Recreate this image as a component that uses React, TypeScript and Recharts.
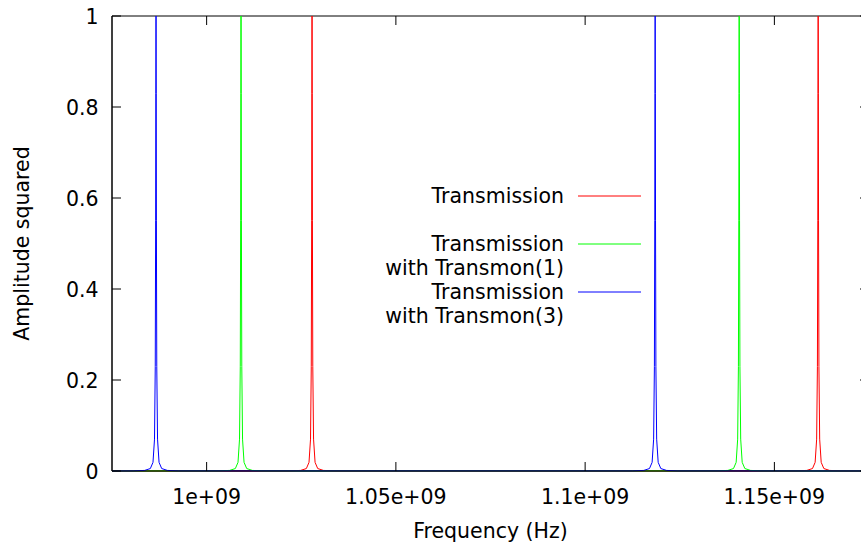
import { LineChart, Line, XAxis, YAxis, ReferenceArea } from 'recharts'

const freqMin = 0.975e9
const freqMax = 1.175e9

const xTicks = [1.0e9, 1.05e9, 1.1e9, 1.15e9]
const xTickLabels = ['1e+09', '1.05e+09', '1.1e+09', '1.15e+09']
const yTicks = [0, 0.2, 0.4, 0.6, 0.8, 1]
const yTickLabels = ['0', '0.2', '0.4', '0.6', '0.8', '1']

// resonance centres (Hz)
const redPeaks = [1.02785e9, 1.16157e9]
const greenPeaks = [1.00909e9, 1.1407e9]
const bluePeaks = [0.98663e9, 1.1185e9]

// one resonance as it looks on the plot: offset from centre (MHz) -> amplitude squared
const peakOffsets = [-6, -3, -1.5, -0.8, -0.4, -0.2, -0.1, -0.05, 0, 0.05, 0.1, 0.2, 0.4, 0.8, 1.5, 3, 6]
const peakHeights = [0.0003, 0.0013, 0.0054, 0.019, 0.07, 0.23, 0.55, 0.83, 1, 0.83, 0.55, 0.23, 0.07, 0.019, 0.0054, 0.0013, 0.0003]

const seriesColors = ['#ff0000', '#00ff00', '#0000ff']
const legendNames = [
  ['Transmission'],
  ['Transmission', 'with Transmon(1)'],
  ['Transmission', 'with Transmon(3)'],
]

function buildSeries(peaks: number[]) {
  const pts: { f: number; a: number }[] = [{ f: freqMin, a: 0.0001 }]
  peaks.forEach((c) => {
    peakOffsets.forEach((o, i) => pts.push({ f: c + o * 1e6, a: peakHeights[i] }))
  })
  pts.push({ f: freqMax, a: 0.0001 })
  return pts
}

const series = [buildSeries(redPeaks), buildSeries(greenPeaks), buildSeries(bluePeaks)]

const PLOT_W = 757
const PLOT_H = 455
const TICK = 9
const FS = 20.5

const XTick = ({ x, y, payload }: any) => {
  const i = xTicks.indexOf(payload.value)
  return (
    <g>
      <line x1={x} y1={y} x2={x} y2={y - TICK} stroke="#000" />
      <line x1={x} y1={y - PLOT_H} x2={x} y2={y - PLOT_H + TICK} stroke="#000" />
      <text x={x} y={y + 33} textAnchor="middle" fontSize={FS} fill="#000">
        {xTickLabels[i]}
      </text>
    </g>
  )
}

const YTick = ({ x, y, payload }: any) => {
  const i = yTicks.indexOf(payload.value)
  return (
    <g>
      <line x1={x} y1={y} x2={x + TICK} y2={y} stroke="#000" />
      <line x1={x + PLOT_W} y1={y} x2={x + PLOT_W - TICK} y2={y} stroke="#000" />
      <text x={x - 13.5} y={y + 7.5} textAnchor="end" fontSize={FS} fill="#000">
        {yTickLabels[i]}
      </text>
    </g>
  )
}

export default function App() {
  return (
    <div
      style={{
        position: 'fixed',
        left: 0,
        top: 0,
        width: 861,
        height: 547,
        overflow: 'hidden',
        fontFamily: '"DejaVu Sans", sans-serif',
        background: '#fff',
      }}
    >
      <LineChart width={878} height={547} margin={{ top: 16, right: 9, bottom: 0, left: 8 }}>
        <XAxis
          dataKey="f"
          type="number"
          domain={[freqMin, freqMax]}
          ticks={xTicks}
          tick={<XTick />}
          tickSize={0}
          tickMargin={0}
          height={76}
          stroke="#000"
          label={{ value: 'Frequency (Hz)', position: 'insideBottom', offset: 9, fontSize: FS, fill: '#000' }}
        />
        <YAxis
          type="number"
          domain={[0, 1]}
          ticks={yTicks}
          tick={<YTick />}
          tickSize={0}
          tickMargin={0}
          width={104}
          stroke="#000"
          label={{
            value: 'Amplitude squared',
            angle: -90,
            position: 'insideLeft',
            offset: 14,
            fontSize: FS,
            fill: '#000',
            style: { textAnchor: 'middle' },
          }}
        />
        <ReferenceArea x1={freqMin} x2={freqMax} y1={0} y2={1} fill="none" stroke="#000" strokeWidth={1} />
        {series.map((d, i) => (
          <Line
            key={i}
            data={d}
            dataKey="a"
            stroke={seriesColors[i]}
            strokeWidth={1}
            dot={false}
            isAnimationActive={false}
          />
        ))}
      </LineChart>
      <svg width={861} height={547} style={{ position: 'absolute', left: 0, top: 0, pointerEvents: 'none' }}>
        {legendNames.map((lines, i) => {
          const base = 203 + i * 48
          return (
            <g key={i}>
              {lines.map((t, j) => (
                <text key={j} x={564} y={base + j * 24} textAnchor="end" fontSize={FS} fill="#000">
                  {t}
                </text>
              ))}
              <line x1={578} y1={base - 7} x2={641} y2={base - 7} stroke={seriesColors[i]} strokeWidth={1} />
            </g>
          )
        })}
      </svg>
    </div>
  )
}
